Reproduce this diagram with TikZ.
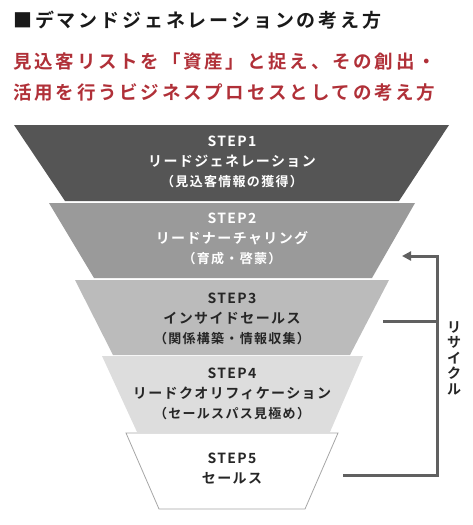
\documentclass[tikz,border=0pt]{standalone}
\usepackage{fontspec}
\usetikzlibrary{arrows.meta}
\setmainfont{Noto Sans CJK JP Bold}
\newfontfamily\headfont{Noto Sans CJK JP Bold}[LetterSpace=15]
\newfontfamily\stepfont{Noto Sans CJK JP Bold}[LetterSpace=10]
\definecolor{leadred}{RGB}{176,48,56}
\definecolor{tone1}{HTML}{555555}
\definecolor{tone2}{HTML}{9A9A9A}
\definecolor{tone3}{HTML}{BBBBBB}
\definecolor{tone4}{HTML}{DDDDDD}
\definecolor{loopgray}{HTML}{606060}
\tikzset{
  steptext/.style={align=center,inner sep=0pt,font=\stepfont\fontsize{14}{20}\selectfont},
  recycle/.style={draw=loopgray,line width=3pt}
}
\newcommand{\sub}[1]{{\fontsize{13}{20}\selectfont #1}}
\begin{document}
\begin{tikzpicture}[x=1pt,y=-1pt]
\useasboundingbox (0,0) rectangle (472,525);
\node[anchor=west,inner sep=0pt,font=\headfont\fontsize{19}{20}\selectfont,text=black!90] (title) at (13,20) {■デマンドジェネレーションの考え方};
\node[anchor=west,align=left,inner sep=0pt,font=\headfont\fontsize{18.5}{31}\selectfont,text=leadred] (lead) at (13,77.5) {見込客リストを「資産」と捉え、その創出・\\活用を行うビジネスプロセスとしての考え方};
% funnel
\fill[tone1] (14,125) -- (449,125) -- (399,201) -- (65,201) -- cycle;
\fill[tone2] (49,203) -- (415,203) -- (372,278) -- (94,278) -- cycle;
\fill[tone3] (75,280) -- (389,280) -- (350,355) -- (113,355) -- cycle;
\fill[tone4] (102,356) -- (363,356) -- (330,432) -- (137,432) -- cycle;
\filldraw[fill=white,draw=black!35,line width=0.8pt] (126,433) -- (338,433) -- (305,509) -- (159,509) -- cycle;
\node[steptext,text=white] (s1) at (232,162) {STEP1\\リードジェネレーション\\\sub{（見込客情報の獲得）}};
\node[steptext,text=white] (s2) at (232,239) {STEP2\\リードナーチャリング\\\sub{（育成・啓蒙）}};
\node[steptext,text=black!85] (s3) at (232,319) {STEP3\\インサイドセールス\\\sub{（関係構築・情報収集）}};
\node[steptext,text=black!85] (s4) at (232,394) {STEP4\\リードクオリフィケーション\\\sub{（セールスパス見極め）}};
\node[steptext,text=black!85] (s5) at (232,469) {STEP5\\セールス};
% recycle loop
\coordinate (r5) at (343,475);
\coordinate (r3) at (383,321);
\coordinate (r2) at (402,256);
\coordinate (rc) at (437,321);
\draw[recycle,-{Triangle[length=9pt,width=9pt]}] (r5) -| (r2 -| rc) -- (r2);
\draw[recycle] (r3) -- (rc);
\node[align=center,inner sep=0pt,font=\stepfont\fontsize{14}{15.5}\selectfont,text=black!85] (rlabel) at (454,358) {リ\\サ\\イ\\ク\\ル};
\end{tikzpicture}
\end{document}
